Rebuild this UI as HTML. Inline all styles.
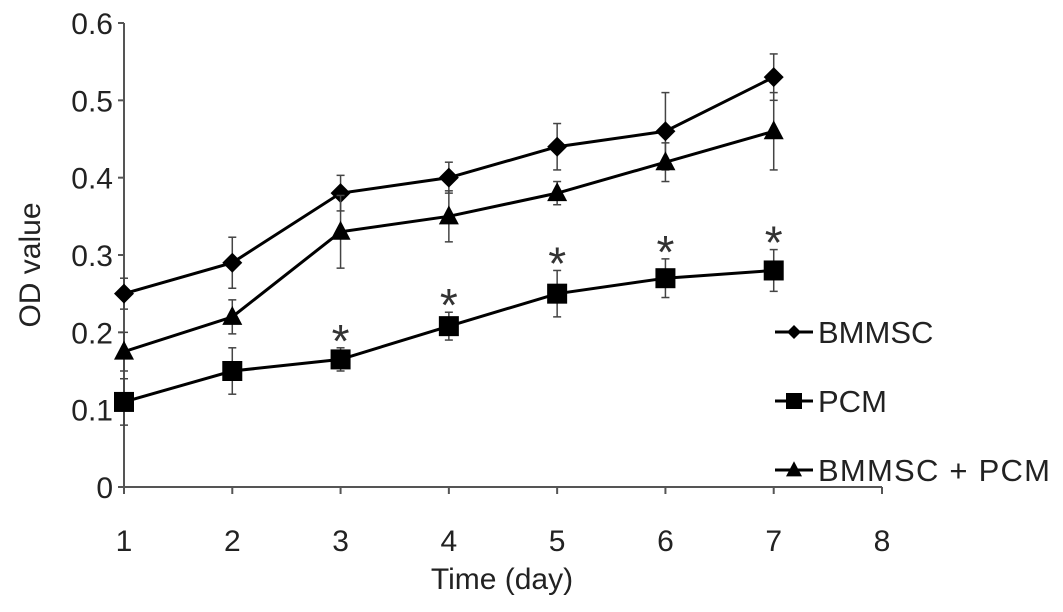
<!DOCTYPE html>
<html><head><meta charset="utf-8"><style>
html,body{margin:0;padding:0;background:#fff}
svg{display:block;font-family:"Liberation Sans",Arial,sans-serif}
</style></head><body>
<svg id="chart" width="1063" height="612">
<g id="axes"></g>
<g id="plot"></g>
<g id="legend"></g>
<text x="502" y="589" text-anchor="middle" font-size="30" fill="#222">Time (day)</text>
<text transform="translate(40,265) rotate(-90)" text-anchor="middle" font-size="30" fill="#222">OD value</text>
</svg>
<script>
const days=[1,2,3,4,5,6,7];
const bmmsc=[0.25,0.29,0.38,0.40,0.44,0.46,0.53];
const bmmscErr=[0.02,0.033,0.023,0.02,0.03,0.05,0.03];
const pcm=[0.11,0.15,0.165,0.208,0.25,0.27,0.28];
const pcmErr=[0.03,0.03,0.015,0.018,0.03,0.025,0.027];
const combo=[0.175,0.22,0.33,0.35,0.38,0.42,0.46];
const comboErr=[0.025,0.022,0.047,0.033,0.015,0.025,0.05];
const sigDays=[3,4,5,6,7];
const xTicks=[1,2,3,4,5,6,7,8];
const yTicks=[0,0.1,0.2,0.3,0.4,0.5,0.6];
const NS='http://www.w3.org/2000/svg';
const X0=124,X1=882,Y0=487,Y1=23;
const xs=d=>X0+(d-1)/7*(X1-X0);
const ys=v=>Y0-v/0.6*(Y0-Y1);
function mk(tag,attrs,parent,txt){const e=document.createElementNS(NS,tag);for(const k in attrs)e.setAttribute(k,attrs[k]);if(txt!==undefined)e.textContent=txt;parent.appendChild(e);return e;}
const axes=document.getElementById('axes'),plot=document.getElementById('plot'),leg=document.getElementById('legend');
let a=mk('line',{x1:X0,y1:Y1,x2:X0,y2:Y0,stroke:'#555','stroke-width':2},axes);


a=mk('line',{x1:X0,y1:Y0,x2:X1,y2:Y0,stroke:'#555','stroke-width':2},axes);


yTicks.forEach(v=>{
 mk('line',{x1:X0-6,y1:ys(v),x2:X0,y2:ys(v),stroke:'#555','stroke-width':2},axes);
 const t=mk('text',{x:X0-11,y:ys(v)+11,'text-anchor':'end','font-size':30,fill:'#222'},axes,v===0?'0':v.toFixed(1));
 
 
});
xTicks.forEach(d=>{
 mk('line',{x1:xs(d),y1:Y0,x2:xs(d),y2:Y0+7,stroke:'#555','stroke-width':2},axes);
 const t=mk('text',{x:xs(d),y:Y0+64,'text-anchor':'middle','font-size':30,fill:'#222'},axes,d);
 
 
});
function marker(shape,cx,cy,s,parent){
 if(shape==='diamond')return mk('polygon',{points:`${cx},${cy-s} ${cx+s},${cy} ${cx},${cy+s} ${cx-s},${cy}`,fill:'#000'},parent);
 if(shape==='square')return mk('rect',{x:cx-s,y:cy-s,width:2*s,height:2*s,fill:'#000'},parent);
 return mk('polygon',{points:`${cx},${cy-s*1.1} ${cx+s},${cy+s*0.8} ${cx-s},${cy+s*0.8}`,fill:'#000'},parent);
}
const series=[['bmmsc',bmmsc,bmmscErr,'diamond',10],['pcm',pcm,pcmErr,'square',10],['combo',combo,comboErr,'triangle',10]];
series.forEach(([name,vals,errs,shape,s])=>{
 const g=mk('g',{},plot);
 
 
 days.forEach((d,i)=>{
  const x=xs(d);
  mk('line',{x1:x,y1:ys(vals[i]-errs[i]),x2:x,y2:ys(vals[i]+errs[i]),stroke:'#444','stroke-width':1.5},g);
  mk('line',{x1:x-4,y1:ys(vals[i]-errs[i]),x2:x+4,y2:ys(vals[i]-errs[i]),stroke:'#444','stroke-width':1.5},g);
  mk('line',{x1:x-4,y1:ys(vals[i]+errs[i]),x2:x+4,y2:ys(vals[i]+errs[i]),stroke:'#444','stroke-width':1.5},g);
 });
 const l=mk('polyline',{points:days.map((d,i)=>xs(d)+','+ys(vals[i])).join(' '),fill:'none',stroke:'#000','stroke-width':3},g);
 
 
 days.forEach((d,i)=>{
  const m=marker(shape,xs(d),ys(vals[i]),s,g);
  
  
 });
});
sigDays.forEach(d=>{
 const i=days.indexOf(d);
 const t=mk('text',{x:xs(d),y:ys(pcm[i]+pcmErr[i])+9,'text-anchor':'middle','font-size':46,fill:'#333'},plot,'*');
 
 
});
const legItems=[['BMMSC','diamond',332,7],['PCM','square',401,8],['BMMSC + PCM','triangle',470,8]];
legItems.forEach(([lab,shape,y,s])=>{
 const g=mk('g',{},leg);
 
 
 mk('line',{x1:775,y1:y,x2:813,y2:y,stroke:'#000','stroke-width':3},g);
 marker(shape,794,y,s,g);
 const t=mk('text',{x:818,y:y+11,'font-size':31,fill:'#222'},g,lab);
 if(lab.length>5)t.setAttribute('textLength',232);
});
</script>
</body></html>
